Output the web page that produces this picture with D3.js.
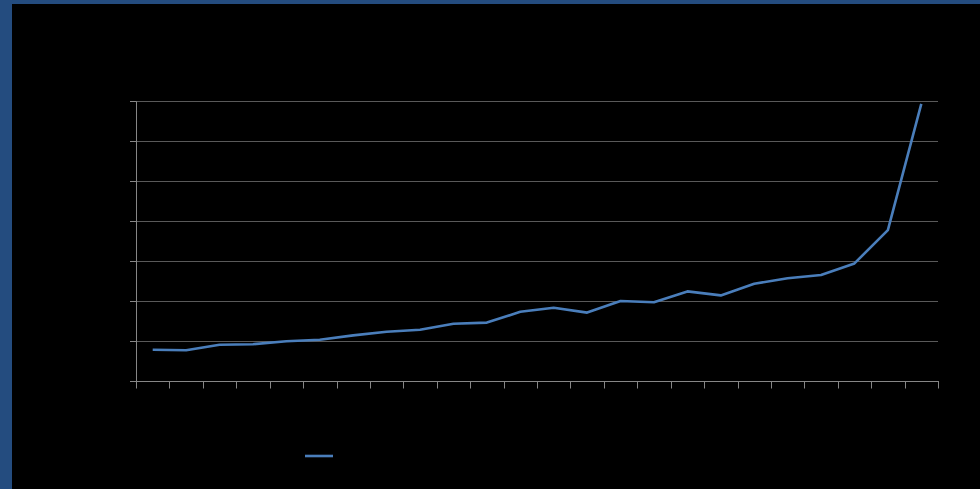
<!DOCTYPE html>
<html>
<head>
<meta charset="utf-8">
<script src="https://cdn.jsdelivr.net/npm/d3@7"></script>
<style>
  html, body { margin: 0; padding: 0; background: #000; }
  svg { display: block; }
</style>
</head>
<body>
<svg id="chart" width="980" height="489"></svg>
<script>
// Data (24 categories, one series)
const categories = d3.range(1, 25).map(String);
const values = [0.78, 0.77, 0.905, 0.92, 0.995, 1.03, 1.14, 1.23, 1.28, 1.43, 1.46, 1.73,
                1.83, 1.71, 2.0, 1.97, 2.24, 2.14, 2.43, 2.57, 2.65, 2.94, 3.77, 6.93];
const yTicks = [0, 1, 2, 3, 4, 5, 6, 7];

const svg = d3.select("#chart");
const W = 980, H = 489;

// background + frame
svg.append("rect").attr("width", W).attr("height", H).attr("fill", "#000");
svg.append("rect").attr("x", 0).attr("y", 0).attr("width", W).attr("height", 4).attr("fill", "#244c7f");
svg.append("rect").attr("x", 0).attr("y", 0).attr("width", 12).attr("height", H).attr("fill", "#244c7f");

const m = { left: 136, right: 938, top: 101, bottom: 381 };

const x = d3.scaleBand().domain(categories).range([m.left, m.right]);
const y = d3.scaleLinear().domain([0, 7]).range([m.bottom, m.top]);

// gridlines
svg.append("g").selectAll("line").data(yTicks.filter(d => d > 0)).join("line")
  .attr("x1", m.left).attr("x2", m.right)
  .attr("y1", d => Math.round(y(d)) + 0.5).attr("y2", d => Math.round(y(d)) + 0.5)
  .attr("stroke", "#595959").attr("stroke-width", 1);

// y axis
const yAxis = svg.append("g").attr("transform", `translate(${m.left},0)`)
  .call(d3.axisLeft(y).tickValues(yTicks).tickSize(6).tickFormat(""));
yAxis.selectAll("line, path").attr("stroke", "#868686");

// x axis with tick marks at category boundaries
const xAxisG = svg.append("g").attr("transform", `translate(0,${m.bottom + 0.5})`);
xAxisG.append("line").attr("x1", m.left - 6).attr("x2", m.right + 1)
  .attr("y1", 0).attr("y2", 0).attr("stroke", "#868686");
const bounds = categories.map(c => x(c)).concat([m.right]);
xAxisG.selectAll("line.tk").data(bounds).join("line").attr("class", "tk")
  .attr("x1", d => Math.round(d) + 0.5).attr("x2", d => Math.round(d) + 0.5)
  .attr("y1", 0).attr("y2", 7).attr("stroke", "#868686");

// series line
const line = d3.line()
  .x((d, i) => x(categories[i]) + x.bandwidth() / 2)
  .y(d => y(d));
svg.append("path").datum(values)
  .attr("d", line)
  .attr("fill", "none")
  .attr("stroke", "#4a7ebb")
  .attr("stroke-width", 2.6)
  .attr("stroke-linejoin", "round");

// legend marker
svg.append("line").attr("x1", 305).attr("x2", 333).attr("y1", 456).attr("y2", 456)
  .attr("stroke", "#4a7ebb").attr("stroke-width", 2.6);
</script>
</body>
</html>
